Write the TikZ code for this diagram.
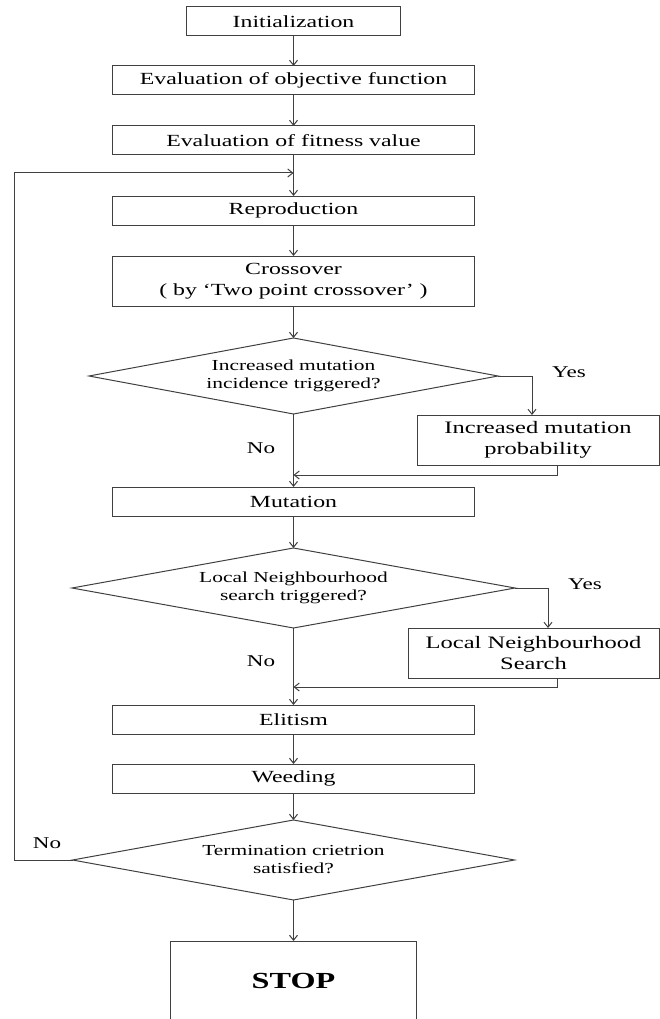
\documentclass[tikz,border=0pt]{standalone}
\usepackage{fontspec}
\setmainfont{Liberation Serif}[FakeStretch=1.4]
\usetikzlibrary{positioning}
\usetikzlibrary{shapes.geometric}
\usetikzlibrary{arrows.meta}

\begin{document}
\begin{tikzpicture}[x=1pt, y=1pt]

        \def\d{30pt}
        \def\w{362pt}

        % Looks of the boxes, the decisions and the connectors
        \tikzset{
            box/.style={draw=black!75, line width=1pt, rectangle,
                minimum width=\w, minimum height=29pt, inner sep=0pt,
                outer sep=0pt, align=center,
                font=\fontsize{17}{21}\selectfont},
            side/.style={box, minimum height=50pt,
                font=\fontsize{17.5}{20.5}\selectfont},
            dec/.style={draw=black!75, line width=1pt, diamond, aspect=5.5,
                inner sep=0pt, outer sep=0pt, align=center,
                font=\fontsize{15.3}{18}\selectfont},
            stopbox/.style={box, minimum width=246pt, minimum height=80pt,
                font=\fontsize{23}{27}\selectfont\bfseries},
            lbl/.style={font=\fontsize{16.5}{20}\selectfont},
            arr/.style={draw=black!75, line width=1pt,
                -{Straight Barb[length=5pt,width=8pt]}}
        }

        \useasboundingbox (0,0) rectangle (660,-1019);

        % Main column, from top to bottom
        \begin{scope}
            \node[box, minimum width=214pt] (init) at (293.5,-21.5)
            {Initialization};
            \node[box] (evobj) [below=\d of init]
            {Evaluation of objective function};
            \node[box] (evfit) [below=31pt of evobj]
            {Evaluation of fitness value};
            \node[box] (repro) [below=41pt of evfit] {Reproduction};
            \node[box, minimum height=50pt] (cross) [below=31pt of repro]
            {Crossover\\( by ‘Two point crossover’ )};
            \node[dec, minimum width=409pt, minimum height=76pt] (d1)
            [below=32pt of cross]
            {Increased mutation\\incidence triggered?};
            \node[box] (mut) [below=73pt of d1] {Mutation};
            \node[dec, minimum width=443pt, minimum height=80pt] (d2)
            [below=32pt of mut]
            {Local Neighbourhood\\search triggered?};
            \node[box] (elit) [below=77pt of d2] {Elitism};
            \node[box] (weed) [below=\d of elit] {Weeding};
            \node[dec, minimum width=442pt, minimum height=80pt] (d3)
            [below=27pt of weed]
            {Termination crietrion\\satisfied?};
            \node[stopbox] (stop) [below=41pt of d3] {STOP};
        \end{scope}

        % Side boxes and branch labels
        \node[side, minimum width=242pt] (imp) at (538,-440)
        {Increased mutation\\probability};
        \node[side, minimum width=251pt] (lns) at (533.5,-653)
        {Local Neighbourhood\\Search};

        \node[lbl] (yes1) at (569,-372) {Yes};
        \node[lbl] (no1) at (261,-448) {No};
        \node[lbl] (yes2) at (585,-584) {Yes};
        \node[lbl] (no2) at (261,-661) {No};
        \node[lbl] (no3) at (47,-843) {No};

        \coordinate (m0) at (293.5,-173);
        \coordinate (m1) at (293.5,-475);
        \coordinate (m2) at (293.5,-687);
        \coordinate (lp) at (14,-173);

        \begin{scope}
            \draw[arr] (init) -- (evobj);
            \draw[arr] (evobj) -- (evfit);
            \draw[arr] (evfit) -- (repro);
            \draw[arr] (repro) -- (cross);
            \draw[arr] (cross) -- (d1);
            \draw[arr] (d1) -- (mut);
            \draw[arr] (d1.east) -| ([xshift=-6pt]imp.north);
            \draw[arr] ([xshift=19pt]imp.south) |- (m1);
            \draw[arr] (mut) -- (d2);
            \draw[arr] (d2.east) -| ([xshift=14.5pt]lns.north);
            \draw[arr] ([xshift=23.5pt]lns.south) |- (m2);
            \draw[arr] (d2) -- (elit);
            \draw[arr] (elit) -- (weed);
            \draw[arr] (weed) -- (d3);
            \draw[arr] (d3) -- (stop);
            \draw[arr] (d3.west) -| (lp) -- (m0);
        \end{scope}

\end{tikzpicture}
\end{document}
